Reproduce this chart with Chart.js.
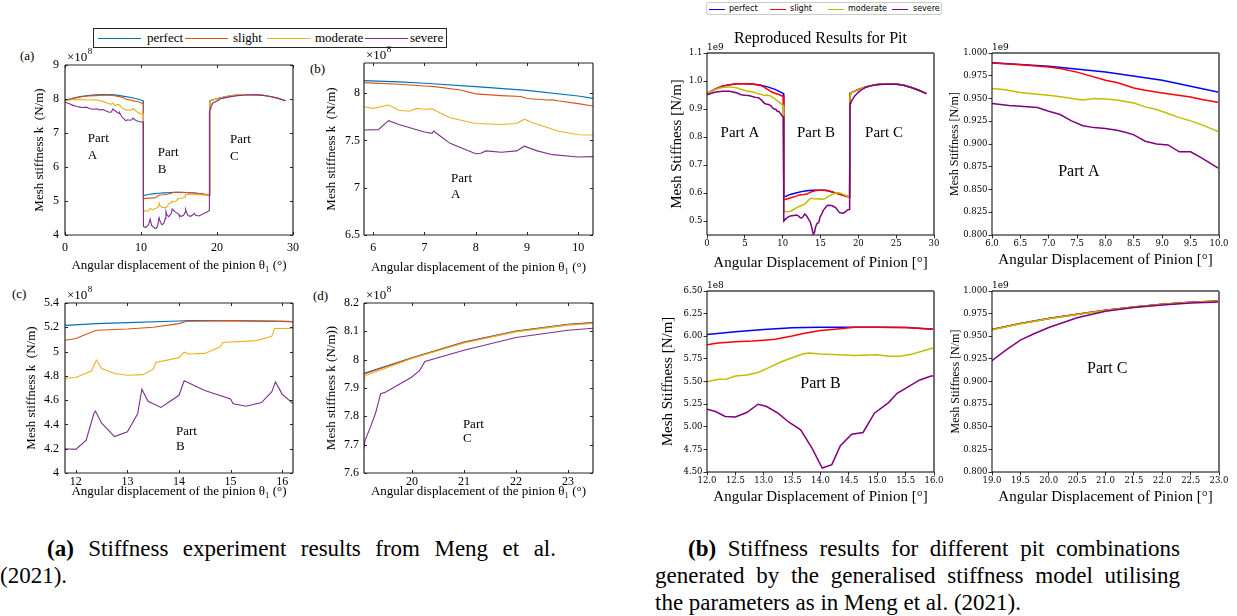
<!DOCTYPE html>
<html>
<head>
<meta charset="utf-8">
<title>Mesh stiffness: Meng et al. vs reproduced</title>
<script src="https://cdn.jsdelivr.net/npm/chart.js"></script>
<style>
  body { margin: 0; width: 1237px; height: 616px; position: relative; overflow: hidden; background: #fff; font-family: "Liberation Serif", serif; color: #000; }
  .abs { position: absolute; white-space: nowrap; }
  .letter { font-size: 13px; line-height: 16px; }
  .cap { position: absolute; font-size: 23px; line-height: 26px; }
  .just { text-align: justify; text-align-last: justify; }
  .leg { position: absolute; box-sizing: border-box; background: #fff; }
  .leg span { position: absolute; }
</style>
</head>
<body>

<div class="abs letter" style="left:20px; top:48px;">(a)</div>
<div class="abs letter" style="left:310px; top:61px;">(b)</div>
<div class="abs letter" style="left:12px; top:286px;">(c)</div>
<div class="abs letter" style="left:313px; top:288px;">(d)</div>

<div id="legMeng" class="leg" style="left:93px; top:28px; width:354px; height:20px; border:1.5px solid #262626; font-size:13px;"></div>
<div id="legRep" class="leg" style="left:706px; top:2px; width:236px; height:13px; border:1px solid #cccccc; border-radius:2px; font-family:'DejaVu Sans'; font-size:8px;"></div>

<div class="cap just" style="left:47px; top:536px; width:509px;"><b>(a)</b> Stiffness experiment results from Meng et al.</div>
<div class="cap" style="left:0px; top:563px;">(2021).</div>
<div class="cap just" style="left:688px; top:536px; width:492px;"><b>(b)</b> Stiffness results for different pit combinations</div>
<div class="cap just" style="left:655px; top:563px; width:525px;">generated by the generalised stiffness model utilising</div>
<div class="cap" style="left:655px; top:590px;">the parameters as in Meng et al. (2021).</div>

<script>
// series names and colours
const seriesNames = ['perfect', 'slight', 'moderate', 'severe'];
const mengColors = ['#0072BD', '#D95319', '#EDB120', '#7E2F8E'];
const repColors = ['#0000ff', '#ff0000', '#bfbf00', '#800080'];

// Meng et al. (2021), [angle deg, stiffness x1e8 N/m]
const mengPerfect = [[0,7.96],[1,8.02],[2,8.07],[3,8.10],[4,8.12],[5,8.13],[5.8,8.134],[6.5,8.12],[7,8.106],[8,8.07],[9,8.03],[10,7.97],[10.3,7.945],
  [10.32,5.16],[11,5.19],[11.8,5.216],[12.4,5.23],[13,5.238],[14,5.252],[14.2,5.255],[15,5.255],[16,5.249],[16.2,5.247],[17,5.235],[18,5.21],[19,5.17],
  [19.05,7.95],[20,8.007],[21,8.062],[22,8.101],[23,8.125],[23.5,8.131],[24,8.133],[25,8.128],[26,8.11],[27,8.075],[28,8.025],[29,7.95]];
const mengSlight = [[0,7.96],[1,8.01],[2,8.06],[3,8.09],[4,8.10],[5,8.11],[5.8,8.113],[6.5,8.095],[7,8.077],[7.2,8.07],[7.7,8.035],[8,7.993],[8.5,7.975],[8.88,7.965],[9,7.944],[9.4,7.928],[9.5,7.93],[9.6,7.92],[10,7.89],[10.3,7.864],
  [10.32,5.07],[11,5.085],[11.8,5.093],[12,5.107],[12.3,5.16],[12.4,5.175],[13,5.186],[13.5,5.20],[14,5.23],[14.15,5.25],[15,5.255],[16,5.249],[16.2,5.247],[17,5.235],[18,5.21],[19,5.17],
  [19.05,7.947],[20,8.006],[21,8.061],[22,8.10],[23,8.124],[23.5,8.13],[24,8.132],[25,8.127],[26,8.109],[27,8.074],[28,8.024],[29,7.95]];
const mengModerate = [[0,7.95],[1,7.98],[2,7.99],[3,7.97],[4,7.98],[5,7.93],[5.8,7.859],[6,7.84],[6.25,7.87],[6.3,7.875],[6.5,7.82],[6.7,7.81],[6.85,7.84],[7,7.83],[7.15,7.835],[7.2,7.82],[7.5,7.74],[8,7.68],[8.5,7.67],[8.8,7.68],[8.95,7.725],[9.1,7.69],[9.5,7.62],[9.6,7.60],[10,7.56],[10.3,7.558],
  [10.32,4.68],[10.6,4.72],[10.9,4.70],[11.2,4.78],[11.5,4.74],[11.8,4.78],[12,4.787],[12.3,4.84],[12.4,4.93],[12.5,4.86],[12.75,4.82],[13,4.805],[13.3,4.81],[13.5,4.855],[13.55,4.91],[14,4.95],[14.1,4.995],[14.2,4.98],[14.5,4.985],[14.8,5.04],[14.85,5.075],[15.5,5.09],[15.8,5.125],[15.85,5.19],[16.2,5.19],[17,5.185],[18,5.18],[19,5.17],
  [19.05,7.90],[19.1,7.943],[20,8.004],[21,8.059],[22,8.098],[23,8.122],[23.5,8.128],[24,8.13],[25,8.125],[26,8.107],[27,8.072],[28,8.022],[29,7.948]];
const mengSevere = [[0,7.92],[0.3,7.88],[0.66,7.85],[1,7.82],[1.5,7.78],[2,7.76],[2.4,7.75],[2.8,7.76],[3.2,7.72],[3.7,7.70],[4.2,7.71],[4.5,7.68],[5,7.69],[5.5,7.64],[5.8,7.61],[6.1,7.615],[6.3,7.71],[6.5,7.67],[7,7.59],[7.15,7.575],[7.18,7.60],[7.3,7.55],[7.5,7.47],[8,7.36],[8.1,7.365],[8.2,7.39],[8.5,7.375],[8.8,7.39],[8.95,7.44],[9.2,7.39],[9.5,7.35],[10,7.325],[10.3,7.33],
  [10.32,4.25],[10.6,4.22],[11,4.30],[11.2,4.47],[11.4,4.28],[11.8,4.20],[12,4.195],[12.2,4.27],[12.35,4.49],[12.38,4.51],[12.5,4.41],[12.75,4.30],[13,4.34],[13.2,4.49],[13.28,4.69],[13.4,4.59],[13.65,4.54],[14,4.64],[14.1,4.76],[14.5,4.68],[15,4.61],[15.05,4.57],[15.3,4.55],[15.6,4.58],[15.8,4.67],[15.87,4.75],[16,4.65],[16.2,4.575],[16.5,4.55],[16.9,4.60],[17,4.64],[17.2,4.58],[17.6,4.56],[18,4.60],[18.3,4.64],[18.6,4.66],[18.95,4.72],
  [19,7.60],[19.1,7.715],[19.2,7.76],[19.3,7.81],[19.35,7.845],[19.4,7.88],[19.5,7.886],[20,7.939],[20.15,7.962],[20.25,7.994],[21,8.033],[22,8.078],[23,8.104],[23.5,8.111],[24,8.12],[25,8.125],[26,8.108],[27,8.073],[28,8.023],[29,7.948]];

// reproduced results, [angle deg, stiffness x1e9 N/m]
const repPerfect = [[0,0.955],[1,0.970],[2,0.981],[3,0.987],[4,0.990],[5,0.9905],[6,0.9894],[7,0.9854],[8,0.979],[9,0.970],[10,0.9569],[10.1,0.955],
  [10.15,0.585],[11,0.595],[12,0.6019],[12.5,0.6049],[13,0.6074],[13.5,0.6093],[14,0.610],[15,0.610],[15.5,0.6096],[16,0.6078],[17,0.600],[18,0.592],[18.85,0.585],
  [18.9,0.955],[19,0.9574],[19.5,0.964],[20,0.9695],[20.5,0.9743],[21,0.9787],[21.5,0.9824],[22,0.9853],[22.5,0.9875],[23,0.989],[24,0.9905],[25,0.989],[26,0.985],[27,0.977],[28,0.967],[29,0.955]];
const repSlight = [[0,0.955],[1,0.970],[2,0.981],[3,0.987],[4,0.990],[5,0.9905],[6,0.989],[6.5,0.987],[7,0.9846],[7.2,0.983],[7.5,0.979],[8,0.970],[8.2,0.9675],[8.5,0.9616],[8.7,0.959],[9,0.956],[9.5,0.9517],[9.7,0.949],[10,0.9455],[10.1,0.944],
  [10.15,0.575],[11,0.582],[12,0.5905],[12.2,0.5926],[12.5,0.594],[12.8,0.5947],[13,0.5957],[13.2,0.5967],[13.5,0.6002],[13.7,0.603],[14,0.6064],[14.3,0.608],[14.6,0.610],[15,0.610],[15.5,0.6096],[16,0.6078],[17,0.600],[18,0.592],[18.85,0.585],
  [18.9,0.955],[19,0.9574],[19.5,0.964],[20,0.9695],[20.5,0.9743],[21,0.9787],[21.5,0.9824],[22,0.9853],[22.5,0.9875],[23,0.989],[24,0.9905],[25,0.989],[26,0.985],[27,0.977],[28,0.967],[29,0.955]];
const repModerate = [[0,0.955],[1,0.969],[2,0.977],[3,0.979],[4,0.975],[5,0.966],[6,0.9609],[6.2,0.9598],[6.5,0.9565],[6.8,0.9547],[7,0.9536],[7.3,0.951],[7.5,0.9492],[7.6,0.9484],[7.8,0.950],[8,0.9495],[8.2,0.9484],[8.5,0.945],[8.7,0.9408],[8.9,0.938],[9.1,0.9335],[9.3,0.929],[9.5,0.9254],[9.7,0.921],[10,0.9133],[10.1,0.912],
  [10.15,0.535],[10.5,0.533],[11,0.535],[11.5,0.542],[12,0.5498],[12.2,0.5524],[12.35,0.5527],[12.5,0.556],[12.7,0.5571],[12.9,0.560],[13.1,0.5656],[13.3,0.5715],[13.5,0.5762],[13.7,0.5806],[13.8,0.5814],[14,0.5803],[14.3,0.5795],[14.6,0.5788],[15,0.5795],[15.2,0.578],[15.4,0.578],[15.6,0.580],[15.8,0.5836],[16,0.5873],[16.5,0.594],[17,0.600],[17.5,0.601],[18,0.595],[18.85,0.585],
  [18.9,0.950],[19,0.9572],[19.5,0.9638],[20,0.9693],[20.5,0.9741],[21,0.9785],[21.5,0.9822],[22,0.9851],[22.5,0.9873],[23,0.9888],[24,0.9903],[25,0.9888],[26,0.9848],[27,0.9768],[28,0.9668],[29,0.9548]];
const repSevere = [[0,0.951],[1,0.960],[2,0.963],[3,0.963],[4,0.957],[4.5,0.951],[5,0.949],[5.5,0.948],[6,0.9444],[6.3,0.9422],[6.5,0.9415],[6.8,0.940],[7,0.936],[7.2,0.9324],[7.4,0.9254],[7.6,0.920],[7.8,0.918],[8,0.917],[8.2,0.915],[8.35,0.913],[8.5,0.910],[8.7,0.903],[8.9,0.900],[9.1,0.899],[9.3,0.8914],[9.5,0.8914],[9.7,0.8845],[10,0.873],[10.1,0.872],
  [10.15,0.500],[10.5,0.510],[11,0.518],[11.5,0.520],[11.8,0.521],[12,0.5194],[12.15,0.5168],[12.32,0.5113],[12.5,0.5109],[12.7,0.5157],[12.9,0.5249],[13.05,0.5223],[13.25,0.515],[13.45,0.5047],[13.65,0.4966],[13.85,0.4764],[14.03,0.4544],[14.2,0.4581],[14.35,0.479],[14.55,0.4918],[14.75,0.4937],[14.95,0.515],[15.2,0.5267],[15.35,0.537],[15.55,0.5443],[15.75,0.5517],[15.95,0.556],[16,0.556],[16.5,0.555],[17,0.548],[17.5,0.530],[18,0.528],[18.4,0.535],[18.6,0.540],[18.85,0.541],
  [18.9,0.920],[19,0.923],[19.25,0.935],[19.5,0.9457],[19.75,0.953],[20,0.9596],[20.5,0.9705],[21,0.9776],[21.5,0.9817],[22,0.9846],[22.5,0.9868],[23,0.9879],[24,0.9895],[25,0.9885],[26,0.985],[27,0.977],[28,0.967],[29,0.955]];

// tick values
const mengATicksX = [0, 10, 20, 30], mengATicksY = [4, 5, 6, 7, 8, 9];
const mengBTicksX = [6, 7, 8, 9, 10], mengBTicksY = [6.5, 7, 7.5, 8];
const mengCTicksX = [12, 13, 14, 15, 16], mengCTicksY = [4, 4.2, 4.4, 4.6, 4.8, 5, 5.2, 5.4];
const mengDTicksX = [20, 21, 22, 23], mengDTicksY = [7.6, 7.7, 7.8, 7.9, 8, 8.1, 8.2];
const repFullTicksX = [0, 5, 10, 15, 20, 25, 30], repFullTicksY = [0.5, 0.6, 0.7, 0.8, 0.9, 1.0, 1.1];
const repATicksX = [6, 6.5, 7, 7.5, 8, 8.5, 9, 9.5, 10];
const repBTicksX = [12, 12.5, 13, 13.5, 14, 14.5, 15, 15.5, 16];
const repCTicksX = [19, 19.5, 20, 20.5, 21, 21.5, 22, 22.5, 23];
const repACTicksY = [0.8, 0.825, 0.85, 0.875, 0.9, 0.925, 0.95, 0.975, 1.0];
const repBTicksY = [4.5, 4.75, 5, 5.25, 5.5, 5.75, 6, 6.25, 6.5];

const mengSeries = [mengPerfect, mengSlight, mengModerate, mengSevere];
const repSeries = [repPerfect, repSlight, repModerate, repSevere];

// draws the axes box, inward ticks, offset text and annotations
const decor = {
  id: 'decor',
  afterDatasetsDraw(chart, args, o) {
    const {ctx, chartArea: a, scales: {x, y}} = chart;
    ctx.save();
    if (o.inTicks) {
      ctx.strokeStyle = '#262626'; ctx.lineWidth = 1;
      ctx.beginPath();
      x.ticks.forEach(t => {
        const px = Math.round(x.getPixelForValue(t.value)) + 0.5;
        ctx.moveTo(px, a.bottom); ctx.lineTo(px, a.bottom - 3);
        ctx.moveTo(px, a.top); ctx.lineTo(px, a.top + 3);
      });
      y.ticks.forEach(t => {
        const py = Math.round(y.getPixelForValue(t.value)) + 0.5;
        ctx.moveTo(a.left, py); ctx.lineTo(a.left + 3, py);
        ctx.moveTo(a.right, py); ctx.lineTo(a.right - 3, py);
      });
      ctx.stroke();
    }
    const side = (c, w, x0, y0, x1, y1) => {
      ctx.strokeStyle = c; ctx.lineWidth = w;
      ctx.beginPath(); ctx.moveTo(x0, y0); ctx.lineTo(x1, y1); ctx.stroke();
    };
    const [lb, tr] = o.box;
    side(tr[0], tr[1], a.left, a.top, a.right, a.top);
    side(tr[0], tr[1], a.right, a.top, a.right, a.bottom);
    side(lb[0], lb[1], a.left, a.bottom, a.right, a.bottom);
    side(lb[0], lb[1], a.left, a.top, a.left, a.bottom);

    ctx.fillStyle = '#000';
    ctx.textBaseline = 'middle';
    (o.texts || []).forEach(t => {
      ctx.font = t.font;
      ctx.textAlign = t.align || 'center';
      ctx.fillText(t.text, x.getPixelForValue(t.x), y.getPixelForValue(t.y));
    });
    if (o.offset) {
      ctx.textAlign = 'left';
      ctx.font = o.offset.font;
      ctx.fillText(o.offset.text, a.left + o.offset.dx, a.top - o.offset.dy);
      if (o.offset.sup) {
        const w = ctx.measureText(o.offset.text).width;
        ctx.font = o.offset.supFont;
        ctx.fillText(o.offset.sup, a.left + o.offset.dx + w + 0.5, a.top - o.offset.dy - 6);
      }
    }
    if (o.title) {
      ctx.textAlign = 'center';
      ctx.font = o.title.font;
      ctx.fillText(o.title.text, (a.left + a.right) / 2, a.top - o.title.dy);
    }
    ctx.restore();
  }
};

function addChart(p) {
  const left = p.box[0] - p.L, top = p.box[1] - p.T;
  const w = p.box[2] - p.box[0] + p.L + p.R, h = p.box[3] - p.box[1] + p.T + p.B;
  const cv = document.createElement('canvas');
  cv.width = w; cv.height = h;
  cv.style.cssText = 'position:absolute;left:' + left + 'px;top:' + top + 'px;width:' + w + 'px;height:' + h + 'px';
  document.body.appendChild(cv);
  const fix = vals => s => { s.ticks = vals.map(v => ({value: v})); };
  const scale = (r, t, fmt, pad, title, tf, fit) => ({
    type: 'linear', min: r[0], max: r[1],
    afterBuildTicks: fix(t), afterFit: fit,
    grid: p.grid, border: {display: false},
    ticks: {font: p.tickFont, color: '#000', padding: pad, maxRotation: 0, autoSkip: false, callback: fmt},
    title: {display: true, text: title, font: tf, color: '#000', padding: 0}
  });
  const datasets = p.series.map((s, i) => ({
    label: seriesNames[i],
    data: p.map ? s.map(p.map) : s,
    borderColor: p.colors[i], borderWidth: p.lw,
    pointRadius: 0, tension: 0, fill: false, order: 4 - i
  }));
  return new Chart(cv, {
    type: 'line',
    data: {datasets},
    options: {
      responsive: false, animation: false, events: [], devicePixelRatio: 1,
      layout: {padding: {top: p.T, right: p.R, left: 0, bottom: 0}},
      plugins: {legend: {display: false}, tooltip: {enabled: false}, decor: p.decor},
      scales: {
        x: scale(p.xr, p.xt, p.fmtX, p.xpad, p.xlabel, p.xFont, s => { s.height = p.B; }),
        y: scale(p.yr, p.yt, p.fmtY, p.ypad, p.ylabel, p.yFont, s => { s.width = p.L; })
      }
    },
    plugins: [decor]
  });
}

// Meng et al. style (MATLAB look)
const trim = v => String(+v.toFixed(2));
const mengBase = {
  series: mengSeries, colors: mengColors, lw: 1.1,
  grid: {display: false, drawTicks: false},
  tickFont: {family: 'Liberation Serif', size: 12},
  fmtX: trim, fmtY: trim,
  T: 22, R: 12
};
const lblM = {family: 'Liberation Serif', size: 13};
const mengX = 'Angular displacement of the pinion \u03b8\u2081 (\u00b0)';
const box8 = {font: '13px "Liberation Serif"', text: '\u00d710', sup: '8', supFont: '9px "Liberation Serif"', dx: 2, dy: 7};
const mBox = [['#262626', 1.2], ['#262626', 1.2]];
const partFont = '13px "Liberation Serif"';

addChart(Object.assign({}, mengBase, {
  box: [65, 65, 293, 235], L: 33, B: 38, xr: [0, 30], yr: [4, 9], xt: mengATicksX, yt: mengATicksY,
  xpad: 6, ypad: 6, xlabel: mengX, ylabel: 'Mesh stiffness k  (N/m)', xFont: lblM, yFont: lblM,
  decor: {inTicks: true, box: mBox, offset: box8, texts: [
    {x: 3.0, y: 6.85, text: 'Part', font: partFont, align: 'left'}, {x: 3.0, y: 6.35, text: 'A', font: partFont, align: 'left'},
    {x: 12.2, y: 6.41, text: 'Part', font: partFont, align: 'left'}, {x: 12.2, y: 5.91, text: 'B', font: partFont, align: 'left'},
    {x: 21.7, y: 6.82, text: 'Part', font: partFont, align: 'left'}, {x: 21.7, y: 6.32, text: 'C', font: partFont, align: 'left'}]}
}));
addChart(Object.assign({}, mengBase, {
  box: [364, 63, 593, 235], L: 40, B: 40, xr: [5.82, 10.29], yr: [6.5, 8.32], xt: mengBTicksX, yt: mengBTicksY,
  xpad: 6, ypad: 4, xlabel: mengX, ylabel: 'Mesh stiffness k  (N/m)', xFont: lblM, yFont: lblM,
  decor: {inTicks: true, box: mBox, offset: box8, texts: [
    {x: 7.52, y: 7.10, text: 'Part', font: partFont, align: 'left'}, {x: 7.52, y: 6.93, text: 'A', font: partFont, align: 'left'}]}
}));
addChart(Object.assign({}, mengBase, {
  box: [65, 303, 293, 473], L: 41, B: 26, xr: [11.79, 16.21], yr: [4, 5.4], xt: mengCTicksX, yt: mengCTicksY,
  xpad: 2, ypad: 6, xlabel: mengX, ylabel: 'Mesh stiffness k  (N/m)', xFont: lblM, yFont: lblM,
  decor: {inTicks: true, box: mBox, offset: box8, texts: [
    {x: 13.94, y: 4.34, text: 'Part', font: partFont, align: 'left'}, {x: 13.94, y: 4.22, text: 'B', font: partFont, align: 'left'}]}
}));
addChart(Object.assign({}, mengBase, {
  box: [364, 303, 593, 473], L: 40, B: 26, xr: [19.08, 23.48], yr: [7.6, 8.2], xt: mengDTicksX, yt: mengDTicksY,
  xpad: 2, ypad: 5, xlabel: mengX, ylabel: 'Mesh stiffness k (N/m))', xFont: lblM, yFont: lblM,
  decor: {inTicks: true, box: mBox, offset: box8, texts: [
    {x: 20.98, y: 7.77, text: 'Part', font: partFont, align: 'left'}, {x: 20.98, y: 7.72, text: 'C', font: partFont, align: 'left'}]}
}));

// reproduced results (matplotlib look)
const repBase = {
  series: repSeries, colors: repColors, lw: 1.5,
  grid: {display: true, drawOnChartArea: false, drawTicks: true, tickLength: 3.5, color: '#000', lineWidth: 0.8},
  tickFont: {family: 'DejaVu Serif', size: 8.5},
  xpad: 0.5, ypad: 1, T: 10, R: 12
};
const big = {family: 'Liberation Serif', size: 15};
const small = {family: 'Liberation Serif', size: 12};
const repX = 'Angular Displacement of Pinion [\u00b0]';
const repY = 'Mesh Stiffness [N/m]';
const rBox = [['#000', 1], ['#707070', 2]];
const off = t => ({font: '9px "DejaVu Serif"', text: t, dx: 0, dy: 5});
const f = n => v => v.toFixed(n);

addChart(Object.assign({}, repBase, {
  box: [707, 53, 934, 235], L: 39, B: 37, T: 45, R: 10, xr: [0, 30], yr: [0.45, 1.1], xt: repFullTicksX, yt: repFullTicksY,
  fmtX: f(0), fmtY: f(1), xlabel: repX, ylabel: repY, xFont: big, yFont: big,
  decor: {box: rBox, offset: off('1e9'), title: {text: 'Reproduced Results for Pit', font: '16px "Liberation Serif"', dy: 14}, texts: [
    {x: 4.36, y: 0.814, text: 'Part A', font: '15px "Liberation Serif"'},
    {x: 14.4, y: 0.814, text: 'Part B', font: '15px "Liberation Serif"'},
    {x: 23.4, y: 0.814, text: 'Part C', font: '15px "Liberation Serif"'}]}
}));
addChart(Object.assign({}, repBase, {
  box: [992, 53, 1219, 235], L: 44, B: 34, xr: [6, 10], yr: [0.8, 1.0], xt: repATicksX, yt: repACTicksY,
  fmtX: f(1), fmtY: f(3), xlabel: repX, ylabel: repY, xFont: big, yFont: small,
  decor: {box: rBox, offset: off('1e9'), texts: [{x: 7.53, y: 0.869, text: 'Part A', font: '16px "Liberation Serif"'}]}
}));
addChart(Object.assign({}, repBase, {
  box: [707, 291, 934, 472], L: 48, B: 34, xr: [12, 16], yr: [4.5, 6.5], xt: repBTicksX, yt: repBTicksY,
  map: pt => [pt[0], pt[1] * 10],
  fmtX: f(1), fmtY: f(2), xlabel: repX, ylabel: repY, xFont: big, yFont: big,
  decor: {box: rBox, offset: off('1e8'), texts: [{x: 14.0, y: 5.48, text: 'Part B', font: '16px "Liberation Serif"'}]}
}));
addChart(Object.assign({}, repBase, {
  box: [992, 291, 1219, 472], L: 43, B: 34, xr: [19, 23], yr: [0.8, 1.0], xt: repCTicksX, yt: repACTicksY,
  fmtX: f(1), fmtY: f(3), xlabel: repX, ylabel: repY, xFont: big, yFont: small,
  decor: {box: rBox, offset: off('1e9'), texts: [{x: 21.03, y: 0.914, text: 'Part C', font: '16px "Liberation Serif"'}]}
}));

// legends
function buildLegend(el, colors, lineX, lineW, textX) {
  seriesNames.forEach((n, i) => {
    const ln = document.createElement('span');
    ln.style.cssText = 'left:' + lineX[i] + 'px;top:50%;width:' + lineW + 'px;height:0;border-top:1.5px solid ' + colors[i] + ';';
    const tx = document.createElement('span');
    tx.style.cssText = 'left:' + textX[i] + 'px;top:50%;transform:translateY(-55%);line-height:1;';
    tx.textContent = n;
    el.appendChild(ln); el.appendChild(tx);
  });
}
buildLegend(document.getElementById('legMeng'), mengColors, [4, 91, 173, 271], 43, [53, 139, 221, 316]);
buildLegend(document.getElementById('legRep'), repColors, [2, 63, 121, 185], 16, [22, 83, 141, 206]);
</script>
</body>
</html>
